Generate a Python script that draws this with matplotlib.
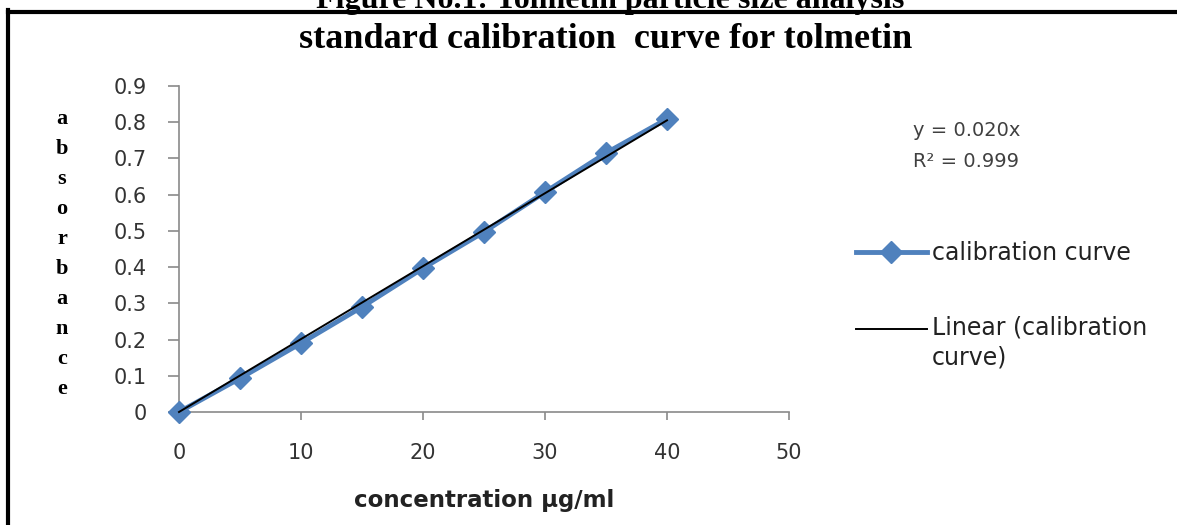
import matplotlib
matplotlib.use("Agg")
import matplotlib.pyplot as plt
from matplotlib.lines import Line2D
from matplotlib.legend_handler import HandlerLine2D
import numpy as np

# ---- data ----
concentration = [0, 5, 10, 15, 20, 25, 30, 35, 40]
absorbance = [0.0, 0.093, 0.19, 0.29, 0.397, 0.497, 0.607, 0.715, 0.809]
x_ticks = [0, 10, 20, 30, 40, 50]
y_ticks = [0, 0.1, 0.2, 0.3, 0.4, 0.5, 0.6, 0.7, 0.8, 0.9]
y_tick_labels = ["0", "0.1", "0.2", "0.3", "0.4", "0.5", "0.6", "0.7", "0.8", "0.9"]
title = "standard calibration  curve for tolmetin"
caption = "Figure No.1: Tolmetin particle size analysis"
xlabel = "concentration µg/ml"
ylabel = "absorbance"
series_label = "calibration curve"
trend_label = "Linear (calibration\ncurve)"
eq_lines = ["y = 0.020x", "R² = 0.999"]

W, H = 1177, 525
fig = plt.figure(figsize=(W / 100, H / 100), dpi=100)
fig.patch.set_facecolor("white")

def fx(px):
    return px / W

def fy(py):
    return 1 - py / H

ax = fig.add_axes([fx(179), fy(412), fx(789) - fx(179), fy(86) - fy(412)])

blue = "#4F81BD"
x = np.array(concentration, dtype=float)
y = np.array(absorbance, dtype=float)
ax.plot(x, y, color=blue, lw=3.5, marker="D", markersize=11,
        markerfacecolor=blue, markeredgecolor=blue, clip_on=False,
        label=series_label, zorder=3)

# linear trendline through origin (Excel "set intercept = 0")
slope = np.sum(x * y) / np.sum(x * x)
xt = np.array([x.min(), x.max()])
ax.plot(xt, slope * xt, color="black", lw=1.4, label=trend_label, zorder=4,
        clip_on=False)

ax.set_xlim(0, 50)
ax.set_ylim(0, 0.9)
ax.set_xticks(x_ticks)
ax.set_yticks(y_ticks)
ax.set_yticklabels(y_tick_labels)

for s in ["top", "right"]:
    ax.spines[s].set_visible(False)
for s in ["left", "bottom"]:
    ax.spines[s].set_color("#8a8a8a")
    ax.spines[s].set_linewidth(1.2)

ax.tick_params(axis="both", colors="#8a8a8a", width=1.2, labelcolor="#333333",
               labelsize=15)
ax.tick_params(axis="y", length=8, pad=15)
ax.tick_params(axis="x", length=6, pad=16)
for lab in ax.get_xticklabels() + ax.get_yticklabels():
    lab.set_family("DejaVu Sans")

# legend: handle of the two-line entry sits at the first text line
LEG_FS = 17
LINE_PITCH_PT = 30 * 72 / 100.0


class FirstLineHandler(HandlerLine2D):
    def create_artists(self, legend, orig_handle, xdescent, ydescent, width,
                       height, fontsize, trans):
        arts = super().create_artists(legend, orig_handle, xdescent, ydescent,
                                      width, height, fontsize, trans)
        for a in arts:
            a.set_ydata(np.asarray(a.get_ydata(), dtype=float) + LINE_PITCH_PT / 2)
        return arts


handles, labels = ax.get_legend_handles_labels()
leg = ax.legend(handles, labels, loc="upper left",
                bbox_to_anchor=(fx(856), fy(241)),
                bbox_transform=fig.transFigure, frameon=False,
                fontsize=LEG_FS, handlelength=3.0, handletextpad=0.22,
                labelspacing=2.15, borderpad=0, borderaxespad=0,
                handler_map={handles[1]: FirstLineHandler()})
for t in leg.get_texts():
    t.set_color("#222222")
    t.set_linespacing(1.32)

# trendline equation
fig.text(fx(913), fy(131), eq_lines[0], fontsize=14, color="#404040",
         va="center", ha="left", family="DejaVu Sans")
fig.text(fx(913), fy(162), eq_lines[1], fontsize=14, color="#404040",
         va="center", ha="left", family="DejaVu Sans")

# title
fig.text(fx(606), fy(48), title, fontsize=26, fontweight="bold",
         family="Liberation Serif", ha="center", va="baseline")

# x label
fig.text(fx(484), fy(500), xlabel, fontsize=16.5, fontweight="bold",
         family="DejaVu Sans", ha="center", va="center", color="#222222")

# stacked y label
for i, ch in enumerate(ylabel):
    fig.text(fx(62), fy(124 + 30 * i), ch, fontsize=16, fontweight="bold",
             family="Liberation Serif", ha="center", va="baseline")

# caption (cut off at top, as in the source page)
fig.text(fx(610), fy(8), caption, fontsize=23, fontweight="bold",
         family="Liberation Serif", ha="center", va="baseline")

# border of the chart box
fig.add_artist(Line2D([fx(8), fx(8)], [fy(10), fy(530)], color="black",
                      lw=3, transform=fig.transFigure, solid_capstyle="projecting"))
fig.add_artist(Line2D([fx(8), fx(1178)], [fy(12), fy(12)], color="black",
                      lw=3, transform=fig.transFigure, solid_capstyle="projecting",
                      zorder=10))

fig.savefig("out.png", dpi=100, facecolor="white")
